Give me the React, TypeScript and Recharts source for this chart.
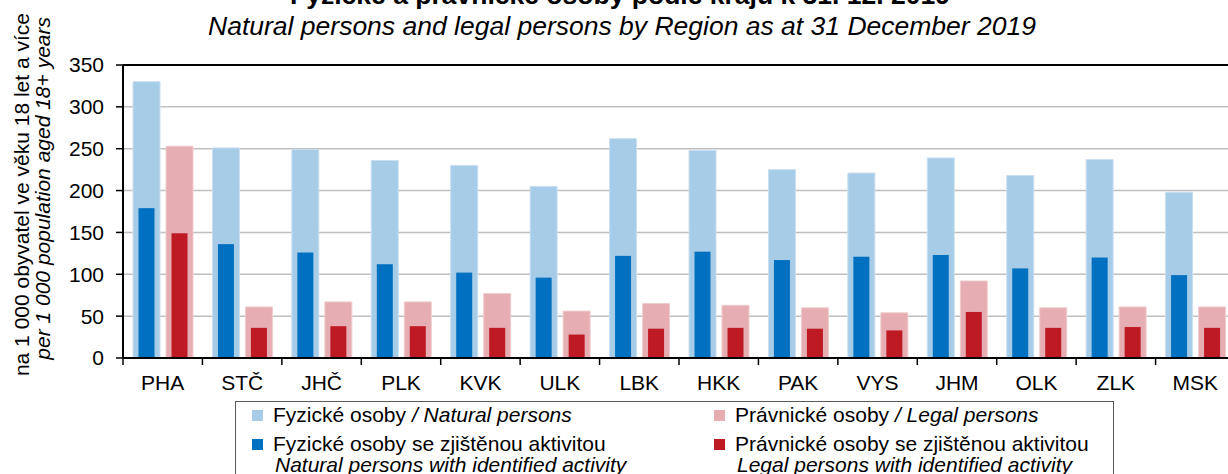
import React from 'react';
import { BarChart, Bar, XAxis, YAxis, CartesianGrid, ReferenceLine } from 'recharts';

const REGIONS = ['PHA', 'STČ', 'JHČ', 'PLK', 'KVK', 'ULK', 'LBK', 'HKK', 'PAK', 'VYS', 'JHM', 'OLK', 'ZLK', 'MSK'];
const NATURAL = [330, 251, 249, 236, 230, 205, 262, 248, 225, 221, 239, 218, 237, 198];
const NATURAL_ACTIVE = [179, 136, 126, 112, 102, 96, 122, 127, 117, 121, 123, 107, 120, 99];
const LEGAL = [253, 61, 67, 67, 77, 56, 65, 63, 60, 54, 92, 60, 61, 61];
const LEGAL_ACTIVE = [149, 36, 38, 38, 36, 28, 35, 36, 35, 33, 55, 36, 37, 36];
const Y_TICKS = [0, 50, 100, 150, 200, 250, 300, 350];

const TITLE = 'Fyzické a právnické osoby podle krajů k 31. 12. 2019';
const SUBTITLE = 'Natural persons and legal persons by Region as at 31 December 2019';
const Y_LABEL_1 = 'na 1 000 obyvatel ve věku 18 let a více';
const Y_LABEL_2 = 'per 1 000 population aged 18+ years';

const C_NAT = '#a7cce7';
const C_NAT_ACT = '#0070c0';
const C_LEG = '#e6aeb2';
const C_LEG_ACT = '#be1a24';

const data = REGIONS.map((region, i) => ({
  region,
  natural: NATURAL[i],
  naturalActive: NATURAL_ACTIVE[i],
  legal: LEGAL[i],
  legalActive: LEGAL_ACTIVE[i],
}));

const FONT = '"Liberation Sans", Arial, sans-serif';
const CHART_W = 1240;
const CHART_H = 474;
const MARGIN = { top: 65, right: 5, bottom: 86, left: 0 };
const Y_AXIS_W = 123;
const BAND = (CHART_W - MARGIN.left - MARGIN.right - Y_AXIS_W) / REGIONS.length;

const NarrowBar = (props: any) => {
  const { x, y, width, height, fill } = props;
  const w = 16;
  if (height <= 0) return null;
  return <rect x={x + (width - w) / 2} y={y} width={w} height={height} fill={fill} />;
};

const XTick = (props: any) => {
  const { x, y, payload, index } = props;
  const left = x - BAND / 2;
  const right = x + BAND / 2;
  return (
    <g>
      <line x1={left} y1={y} x2={left} y2={y + 7} stroke="#000" strokeWidth={1.5} />
      {index === REGIONS.length - 1 && (
        <line x1={right} y1={y} x2={right} y2={y + 7} stroke="#000" strokeWidth={1.5} />
      )}
      <text x={x} y={y + 32} textAnchor="middle" fill="#000" fontSize={21} fontFamily={FONT}>
        {payload.value}
      </text>
    </g>
  );
};

const YLabel = () => (
  <g>
    <text
      transform="translate(29,13) rotate(-90)"
      textAnchor="end"
      fontSize={21}
      fontFamily={FONT}
      fill="#000"
    >
      {Y_LABEL_1}
    </text>
    <text
      transform="translate(50,17) rotate(-90)"
      textAnchor="end"
      fontSize={21}
      fontStyle="italic"
      fontFamily={FONT}
      fill="#000"
    >
      {Y_LABEL_2}
    </text>
  </g>
);

const LEGEND_ITEMS = [
  { color: C_NAT, x: 252, y: 410, lines: [['Fyzické osoby ', ' / Natural persons']] },
  { color: C_NAT_ACT, x: 252, y: 439, lines: [['Fyzické osoby se zjištěnou aktivitou', ''], ['', 'Natural persons with identified activity']] },
  { color: C_LEG, x: 714, y: 410, lines: [['Právnické osoby ', ' / Legal persons']] },
  { color: C_LEG_ACT, x: 714, y: 439, lines: [['Právnické osoby se zjištěnou aktivitou', ''], ['', 'Legal persons with identified activity']] },
];

export default function App() {
  return (
    <div style={{ position: 'absolute', left: 0, top: 0, width: 1228, height: 474, overflow: 'hidden', background: '#fff' }}>
      <BarChart
        width={CHART_W}
        height={CHART_H}
        data={data}
        margin={MARGIN}
        barGap={6}
      >
        <CartesianGrid horizontal vertical={false} stroke="#bfbfbf" strokeWidth={1.5} />
        <XAxis
          xAxisId="a"
          dataKey="region"
          height={30}
          interval={0}
          axisLine={{ stroke: '#000', strokeWidth: 2 }}
          tickLine={false}
          tickSize={0}
          tickMargin={0}
          tick={<XTick />}
        />
        <XAxis xAxisId="b" dataKey="region" hide />
        <YAxis
          width={Y_AXIS_W}
          domain={[0, 350]}
          ticks={Y_TICKS}
          interval={0}
          axisLine={{ stroke: '#000', strokeWidth: 2 }}
          tickLine={{ stroke: '#000', strokeWidth: 1.5 }}
          tickSize={7}
          tickMargin={12}
          tick={{ fill: '#000', fontSize: 21, fontFamily: FONT }}
          label={{ content: () => <YLabel /> }}
        />
        <ReferenceLine xAxisId="a" y={350} stroke="#000" strokeWidth={2} />
        <Bar xAxisId="a" dataKey="natural" barSize={27} fill={C_NAT} stroke="#c9dff1" strokeWidth={1} isAnimationActive={false} />
        <Bar xAxisId="a" dataKey="legal" barSize={27} fill={C_LEG} stroke="#f0cccf" strokeWidth={1} isAnimationActive={false} />
        <Bar xAxisId="b" dataKey="naturalActive" barSize={27} fill={C_NAT_ACT} shape={<NarrowBar />} isAnimationActive={false} />
        <Bar xAxisId="b" dataKey="legalActive" barSize={27} fill={C_LEG_ACT} shape={<NarrowBar />} isAnimationActive={false} />
      </BarChart>
      <svg
        width={1228}
        height={474}
        style={{ position: 'absolute', left: 0, top: 0, pointerEvents: 'none' }}
        fontFamily={FONT}
      >
        <text x={620} y={4} textAnchor="middle" fontSize={26.5} fontWeight="bold" fill="#000">{TITLE}</text>
        <text x={622} y={35} textAnchor="middle" fontSize={26.5} fontStyle="italic" fill="#000">{SUBTITLE}</text>
        <rect x={235.5} y={401.5} width={878} height={100} fill="none" stroke="#595959" strokeWidth={1} />
        {LEGEND_ITEMS.map((it, i) => (
          <g key={i}>
            <rect x={it.x} y={it.y} width={11} height={11} fill={it.color} />
            {it.lines.map((ln, j) => (
              <text key={j} x={it.x + 21 + (j > 0 ? 2 : 0)} y={it.y + 12 + j * 21} fontSize={21} fill="#000">
                {ln[0] && <tspan>{ln[0]}</tspan>}
                {ln[1] && <tspan fontStyle="italic">{ln[1]}</tspan>}
              </text>
            ))}
          </g>
        ))}
      </svg>
    </div>
  );
}
